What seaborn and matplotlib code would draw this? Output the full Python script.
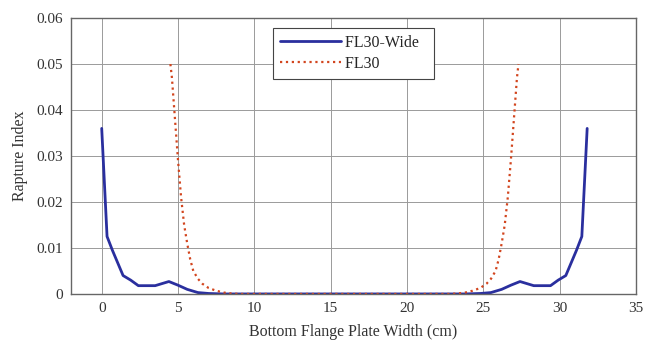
import matplotlib
matplotlib.use("Agg")
import matplotlib.pyplot as plt
import seaborn as sns
import pandas as pd

wide_x = [0.0, 0.35, 0.7, 1.4, 1.9, 2.4, 3.5, 4.4, 5.0, 5.6, 6.3, 7.0, 8.0,
          10.0, 15.0, 20.0, 23.8, 24.8, 25.5, 26.2, 26.8, 27.4, 28.3, 29.4, 29.9, 30.4, 31.1, 31.45, 31.8]
wide_y = [0.036, 0.0125, 0.0095, 0.004, 0.003, 0.0018, 0.0018, 0.0027, 0.0019, 0.001, 0.0003, 0.0001, 0.0,
          0.0, 0.0, 0.0, 0.0, 0.0001, 0.0003, 0.001, 0.0019, 0.0027, 0.0018, 0.0018, 0.003, 0.004, 0.0095, 0.0125, 0.036]

fl30_x = [4.5, 4.6, 4.8, 5.0, 5.2, 5.4, 5.6, 5.8, 6.0, 6.3, 6.6, 7.0, 7.5, 8.0, 8.5, 9.0,
          10.0, 15.0, 20.0,
          22.8, 23.3, 23.8, 24.3, 24.8, 25.2, 25.5, 25.8, 26.0, 26.2, 26.4, 26.6, 26.8, 27.0, 27.2, 27.3]
fl30_y = [0.050, 0.047, 0.038, 0.029, 0.021, 0.015, 0.011, 0.0075, 0.005, 0.0033, 0.0022, 0.0013, 0.0007, 0.0003, 0.0001, 0.0,
          0.0, 0.0, 0.0,
          0.0, 0.0001, 0.0003, 0.0007, 0.0013, 0.0022, 0.0033, 0.005, 0.0075, 0.011, 0.015, 0.021, 0.029, 0.038, 0.047, 0.050]

sns.set_style("white")
plt.rcParams['font.family'] = ['Liberation Serif', 'DejaVu Serif']
plt.rcParams['font.size'] = 11

fig = plt.figure(figsize=(6.53, 3.41), dpi=100)
ax = fig.add_axes([0.109, 0.138, 0.865, 0.809])

df_w = pd.DataFrame({"x": wide_x, "y": wide_y})
df_f = pd.DataFrame({"x": fl30_x, "y": fl30_y})
sns.lineplot(data=df_w, x="x", y="y", ax=ax, color="#2a2f9e", linewidth=2.0,
             label="FL30-Wide", sort=False, estimator=None)
sns.lineplot(data=df_f, x="x", y="y", ax=ax, color="#d2451e", linewidth=1.6,
             linestyle=":", label="FL30", sort=False, estimator=None)

ax.set_xlim(-2, 35)
ax.set_ylim(0, 0.06)
ax.set_xticks([0, 5, 10, 15, 20, 25, 30, 35])
ax.set_yticks([0, 0.01, 0.02, 0.03, 0.04, 0.05, 0.06])
ax.set_yticklabels(["0", "0.01", "0.02", "0.03", "0.04", "0.05", "0.06"])
ax.grid(True, color="#9a9a9a", linewidth=0.7)
ax.tick_params(direction="in", length=3, pad=6, colors="#333333", labelcolor="#333333",
               labelsize=11)
for s in ax.spines.values():
    s.set_color("#666666")
    s.set_linewidth(1.0)
ax.set_xlabel("Bottom Flange Plate Width (cm)", color="#333333", labelpad=6, fontsize=11.5)
ax.set_ylabel("Rapture Index", color="#333333", labelpad=6, fontsize=11.5)

leg = ax.legend(loc="upper center", bbox_to_anchor=(0.5, 0.965), frameon=True,
                fancybox=False, edgecolor="#444444", framealpha=1, fontsize=11.5,
                handlelength=3.8, borderpad=0.45, labelspacing=0.3, handletextpad=0.3,
                borderaxespad=0)
leg.get_frame().set_linewidth(0.8)
for t in leg.get_texts():
    t.set_text(t.get_text() + "  ")

fig.savefig("out.png", dpi=100)
